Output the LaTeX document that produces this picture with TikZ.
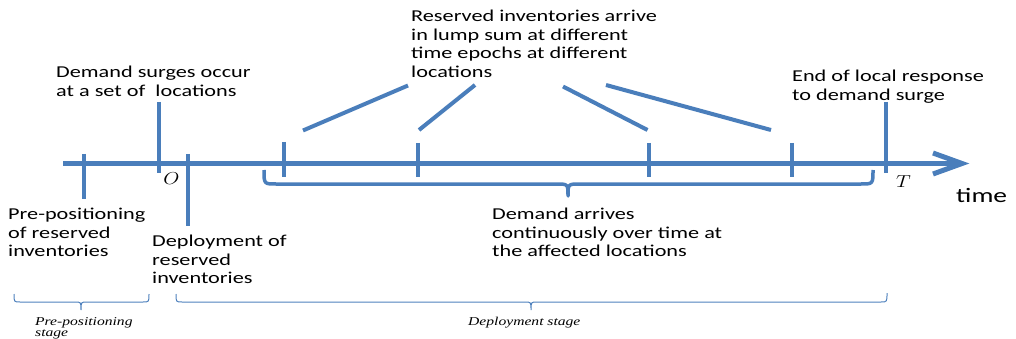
\documentclass[tikz,border=0pt]{standalone}
\usepackage{fontspec}
\setmainfont{Carlito}
\newfontfamily\lblfont[FakeStretch=1.34]{Carlito}
\newfontfamily\stagefont[FakeStretch=1.3]{Liberation Serif}
\definecolor{axisblue}{RGB}{74,126,187}
\definecolor{braceblue}{RGB}{79,129,189}
\begin{document}
\begin{tikzpicture}[x=1pt,y=-1pt,
  axis/.style={axisblue,line width=5pt},
  tick/.style={axisblue,line width=4pt},
  pointer/.style={axisblue,line width=4pt},
  thickbrace/.style={axisblue,line width=3.5pt,line join=round},
  thinbrace/.style={braceblue,line width=1pt},
  lbl/.style={anchor=north west,inner sep=0pt,align=left,
    font=\lblfont\fontsize{16.6}{18.5}\selectfont,text=black},
  stg/.style={inner sep=0pt,align=left,
    font=\stagefont\itshape\fontsize{12}{11.5}\selectfont,text=black},
  mathlbl/.style={inner sep=0pt,font=\fontsize{19}{19}\selectfont}]
\useasboundingbox (0,0) rectangle (1016,339);

% time axis with open arrow head
\coordinate (a0) at (63,163.5);
\coordinate (a1) at (958,163.5);
\coordinate (h1) at (933,153);
\coordinate (tip) at (962,163.5);
\coordinate (h2) at (933,174);
\draw[axis] (a0) -- (a1);
\draw[axis,line join=miter] (h1) -- (tip) -- (h2);

% ticks on the axis
\draw[tick] (84,154) -- (84,199);
\draw[tick] (159,102) -- (159,173);
\draw[tick] (188,154) -- (188,226);
\draw[tick] (284,142) -- (284,177);
\draw[tick] (418,143) -- (418,177);
\draw[tick] (649,143) -- (649,177);
\draw[tick] (792,143) -- (792,177);
\draw[tick] (886,102) -- (886,173);

% lines from the arrival label towards the arrival ticks
\draw[pointer] (303,130.5) -- (408,85.5);
\draw[pointer] (419,130) -- (475,85);
\draw[pointer] (563,86.5) -- (647.5,130);
\draw[pointer] (606,85) -- (771,130);

% brace under the demand period
\draw[thickbrace] (264,170) .. controls (264,184) .. (276,184) -- (556,184)
  .. controls (568,184) .. (568,196) .. controls (568,184) .. (580,184)
  -- (861,184) .. controls (873,184) .. (873,170);

% stage braces
\draw[thinbrace] (14,294) .. controls (14,302) .. (20,302) -- (75,302)
  .. controls (81,302) .. (81,310) .. controls (81,302) .. (87,302)
  -- (143,302) .. controls (149,302) .. (149,294);
\draw[thinbrace] (176,294) .. controls (176,302) .. (182,302) -- (525,302)
  .. controls (531,302) .. (531,310) .. controls (531,302) .. (537,302)
  -- (881,302) .. controls (887,302) .. (887,293);

% labels
\node[lbl] (arrive) at (411,10) {Reserved inventories arrive\\in lump sum at different\\time epochs at different\\locations};
\node[lbl] (surge) at (56,66) {Demand surges occur\\at a set of\ \ locations};
\node[lbl] (endresp) at (792,70) {End of local response\\to demand surge};
\node[lbl] (prepos) at (8,208) {Pre-positioning\\of reserved\\inventories};
\node[lbl] (deploy) at (152,235) {Deployment of\\reserved\\inventories};
\node[lbl] (demand) at (492,208) {Demand arrives\\continuously over time at\\the affected locations};
\node[anchor=base west,inner sep=0pt,font=\lblfont\fontsize{20.5}{20}\selectfont,text=black] (time) at (956,202) {time};
\node[mathlbl] (zero) at (171.5,179) {\scalebox{1.2}[1]{$O$}};
\node[mathlbl] (horizon) at (903.5,182) {\scalebox{1.2}[1]{$T$}};
\node[stg,anchor=north west] (prestage) at (35,317) {Pre-positioning\\stage};
\node[stg,anchor=base west] (depstage) at (468,325) {Deployment stage};
\end{tikzpicture}
\end{document}
